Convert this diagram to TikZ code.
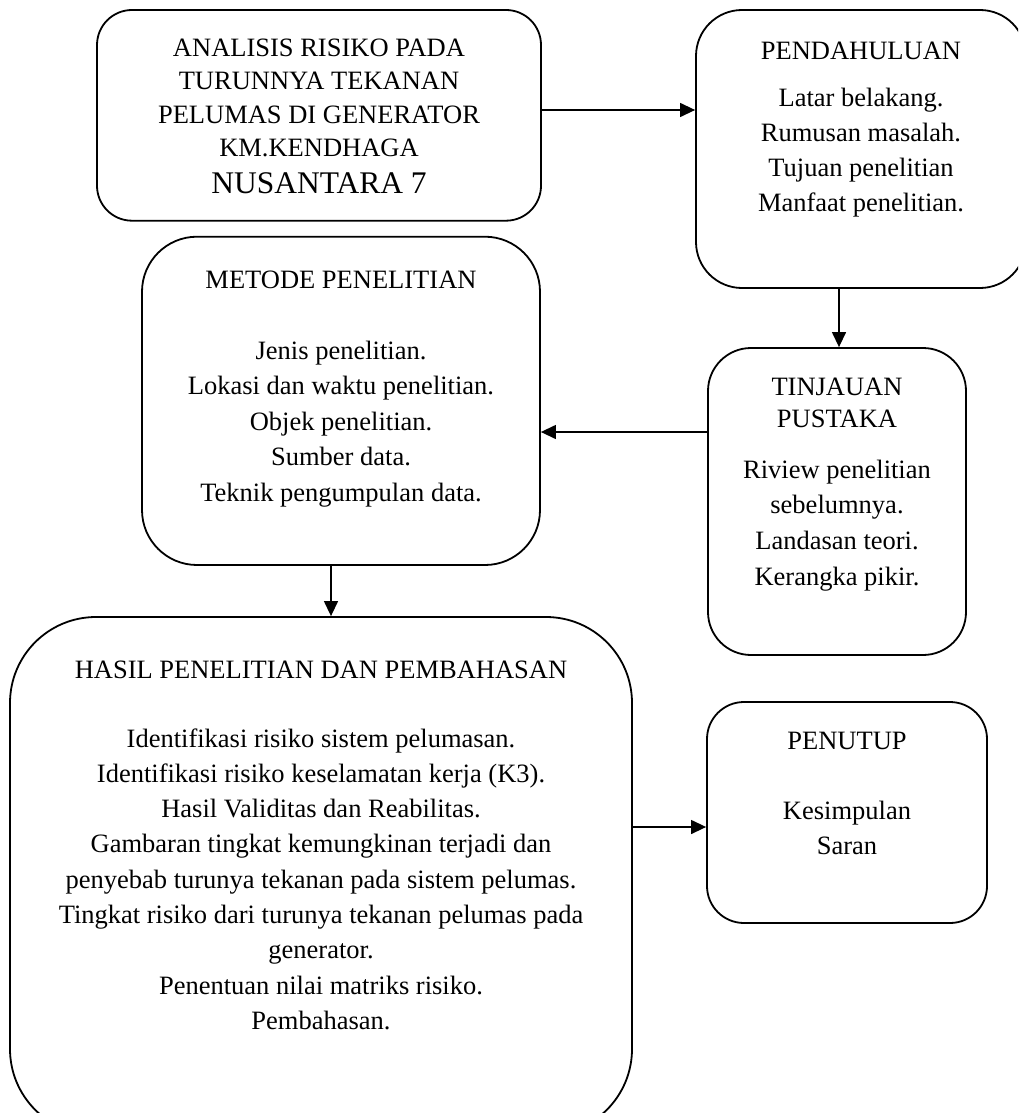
\documentclass[tikz,border=0pt]{standalone}
\usepackage{fontspec}
\setmainfont{Liberation Serif}
\usetikzlibrary{arrows.meta}
\begin{document}
\begin{tikzpicture}[x=1pt,y=-1pt,
  box/.style={draw, line width=1.8pt, rectangle, inner sep=0pt},
  conn/.style={line width=1.3pt, -{Triangle[length=15pt,width=14pt]}},
  txt/.style={anchor=base, inner sep=0pt, font=\fontsize{26.5}{35.3}\selectfont}]
\useasboundingbox (0,0) rectangle (1018,1113);
\clip (0,0) rectangle (1018,1113);

% boxes
\node[box, rounded corners=35pt, minimum width=444pt, minimum height=210.7pt] (title) at (319,115.35) {};
\node[box, rounded corners=46pt, minimum width=330pt, minimum height=278pt] (pend) at (861,149) {};
\node[box, rounded corners=55pt, minimum width=398pt, minimum height=328.3pt] (metode) at (341,400.85) {};
\node[box, rounded corners=43pt, minimum width=258pt, minimum height=307pt] (tinj) at (837,501.5) {};
\node[box, rounded corners=86pt, minimum width=622pt, minimum height=518pt] (hasil) at (321,876) {};
\node[box, rounded corners=37pt, minimum width=280pt, minimum height=221pt] (penutup) at (847,812.5) {};

% texts
\node[txt, font=\fontsize{26.5}{33.3}\selectfont] (titletext) at (319,56.7)
  {\begin{tabular}[t]{@{}c@{}}ANALISIS RISIKO PADA\\ TURUNNYA TEKANAN\\ PELUMAS DI GENERATOR\\ KM.KENDHAGA\\[3.7pt] {\fontsize{31.5}{33.3}\selectfont NUSANTARA 7}\end{tabular}};

\node[txt, font=\fontsize{26.5}{35}\selectfont] (pendtext) at (861,60)
  {\begin{tabular}[t]{@{}c@{}}PENDAHULUAN\\[11.7pt] Latar belakang.\\ Rumusan masalah.\\ Tujuan penelitian\\ Manfaat penelitian.\end{tabular}};

\node[txt, font=\fontsize{26.5}{35.5}\selectfont] (metodetext) at (341,288)
  {\begin{tabular}[t]{@{}c@{}}METODE PENELITIAN\\[35.5pt] Jenis penelitian.\\ Lokasi dan waktu penelitian.\\ Objek penelitian.\\ Sumber data.\\ Teknik pengumpulan data.\end{tabular}};

\node[txt, font=\fontsize{26.5}{35.7}\selectfont] (tinjtext) at (837,395.7)
  {\begin{tabular}[t]{@{}c@{}}TINJAUAN\\[-4.4pt] PUSTAKA\\[15.3pt] Riview penelitian\\ sebelumnya.\\ Landasan teori.\\ Kerangka pikir.\end{tabular}};

\node[txt, font=\fontsize{26.5}{35.3}\selectfont] (hasiltext) at (321,678)
  {\begin{tabular}[t]{@{}c@{}}HASIL PENELITIAN DAN PEMBAHASAN\\[33.7pt] Identifikasi risiko sistem pelumasan.\\ Identifikasi risiko keselamatan kerja (K3).\\ Hasil Validitas dan Reabilitas.\\ Gambaran tingkat kemungkinan terjadi dan\\ penyebab turunya tekanan pada sistem pelumas.\\ Tingkat risiko dari turunya tekanan pelumas pada\\ generator.\\ Penentuan nilai matriks risiko.\\ Pembahasan.\end{tabular}};

\node[txt, font=\fontsize{26.5}{35}\selectfont] (penutuptext) at (847,749)
  {\begin{tabular}[t]{@{}c@{}}PENUTUP\\[35pt] Kesimpulan\\ Saran\end{tabular}};

% connectors
\coordinate (ya) at (0,110);
\coordinate (xb) at (839,0);
\coordinate (yc) at (0,432);
\coordinate (xd) at (331,0);
\coordinate (ye) at (0,827);
\draw[conn] (title.east |- ya) -- (pend.west |- ya);
\draw[conn] (pend.south -| xb) -- (tinj.north -| xb);
\draw[conn] (tinj.west |- yc) -- (metode.east |- yc);
\draw[conn] (metode.south -| xd) -- (hasil.north -| xd);
\draw[conn] (hasil.east |- ye) -- (penutup.west |- ye);
\end{tikzpicture}
\end{document}
